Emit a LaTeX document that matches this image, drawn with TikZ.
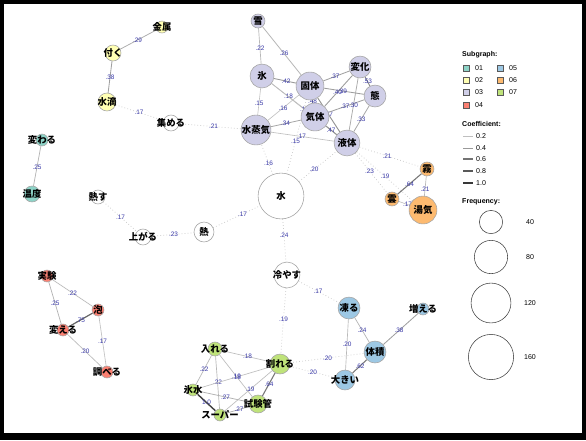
\documentclass[tikz,border=0pt]{standalone}
\usepackage{fontspec}
\setmainfont{Liberation Sans}
\newfontfamily\jp{Noto Sans CJK JP}
\usetikzlibrary{calc}
\pgfdeclarelayer{back}
\pgfdeclarelayer{edges}
\pgfsetlayers{back,edges,main}
\definecolor{c01}{HTML}{8DD3C7}
\definecolor{c02}{HTML}{FFFFB3}
\definecolor{c03}{HTML}{D0CFE8}
\definecolor{c04}{HTML}{FB8072}
\definecolor{c05}{HTML}{9DC8E4}
\definecolor{c06}{HTML}{FDBA70}
\definecolor{c07}{HTML}{BFE37A}
\definecolor{labblue}{HTML}{3A3AA8}
\begin{document}
\begin{tikzpicture}[x=0.03cm, y=-0.03cm,
	nd/.style={circle, draw=gray!70, line width=0.5pt, inner sep=0pt},
	wd/.style={font={\jp\bfseries\fontsize{8}{9}\selectfont}, inner sep=0pt},
	elab/.style={font={\fontsize{5.5}{6}\selectfont}, text=labblue, inner sep=0.5pt},
	dot/.style={dotted, draw=gray!45, line width=0.6pt},
	leg/.style={font={\fontsize{6}{7}\selectfont}, anchor=west, inner sep=0pt},
	sq/.style={draw=gray!70!black, line width=0.4pt, minimum size=5pt, inner sep=0pt}]
	% frame
	\begin{pgfonlayer}{back}
		\fill[black] (0,0) rectangle (586,440);
		\fill[white] (4,4) rectangle (582,433);
	\end{pgfonlayer}
	% words
	\foreach \n/\x/\y/\r/\c/\t in {
		yuki/258/21/7/c03/雪, hyo/262/76/12/c03/氷, kotai/310/86/14/c03/固体, henka/360/67/11/c03/変化,
		tai/375/96/11/c03/態, kitai/315/117/14/c03/気体, jouki/256/130/15/c03/水蒸気, ekitai/347/143/13/c03/液体,
		mizu/281/196/23/white/水, netsu/204/232/10/white/熱, hiyasu/287/275/13/white/冷やす,
		atsumeru/171/123/8/white/集める, agaru/143/237/8/white/上がる, nessu/98/197/7/white/熱す,
		kinzoku/162/27/6/c02/金属, tsuku/113/53/8/c02/付く, suiteki/107/102/9/c02/水滴,
		kawaru/42/140/6/c01/変わる, ondo/32/194/8/c01/温度,
		kiri/427/169/7/c06/霧, kumo/392/199/7/c06/雲, yuge/423/210/14/c06/湯気,
		koru/349/308/11/c05/凍る, taiseki/375/352/11/c05/体積, fueru/423/309/6/c05/増える, ookii/345/380/10/c05/大きい,
		wareru/280/364/10/c07/割れる, ireru/215/349/7/c07/入れる, koorimizu/193/390/6/c07/氷水,
		super/220/415/6/c07/スーパー, shikenkan/258/404/9/c07/試験管,
		jikken/47/276/6/c04/実験, awa/98/310/6/c04/泡, kaeru/63/330/6/c04/変える, shiraberu/107/372/6/c04/調べる} {
		\node[nd, fill=\c, minimum size=\r*1.7pt] (\n) at (\x,\y) {};
		\node[wd] (\n t) at (\n) {\t};
	}
	% co-occurrence edges
	\begin{pgfonlayer}{edges}
		\foreach \a/\b/\c in {kinzoku/tsuku/29, tsuku/suiteki/38, kawaru/ondo/25,
			yuki/hyo/22, yuki/kotai/26, hyo/kotai/42, hyo/kitai/18, hyo/ekitai/18, hyo/jouki/15, kotai/jouki/16,
			kotai/kitai/48, kotai/ekitai/47, kotai/henka/37, kotai/tai/39, kitai/henka/40, kitai/tai/37,
			ekitai/henka/30, henka/tai/53, tai/ekitai/33, kitai/ekitai/47, jouki/kitai/34, jouki/ekitai/17,
			kiri/kumo/64, kiri/yuge/21, kumo/yuge/17,
			koru/ookii/20, koru/taiseki/24, taiseki/fueru/38, taiseki/ookii/62,
			ireru/wareru/18, ireru/koorimizu/22, ireru/super/22, ireru/shikenkan/19, koorimizu/wareru/18,
			koorimizu/shikenkan/27, super/shikenkan/27, super/wareru/19, shikenkan/wareru/64,
			jikken/awa/22, jikken/kaeru/25, awa/kaeru/75, awa/shiraberu/17, kaeru/shiraberu/20} {
			\pgfmathsetmacro\k{15+0.6*\c}
			\pgfmathsetmacro\w{0.4+0.008*\c}
			\draw[line width=\w pt, draw=black!\k] (\a) -- (\b);
			\node[elab] (l\a\b) at ($(\a)!.5!(\b)$) {.\c};
		}
		\draw[line width=1.2pt, draw=black!75] (koorimizu) -- (super);
		\node[elab] (lkoorimizusuper) at ($(koorimizu)!.5!(super)$) {1.0};
		\foreach \a/\b/\c in {suiteki/atsumeru/17, atsumeru/jouki/21, nessu/agaru/17, agaru/netsu/23,
			netsu/mizu/17, mizu/jouki/16, mizu/kotai/15, mizu/ekitai/20, mizu/hiyasu/24,
			ekitai/kiri/21, ekitai/kumo/23, ekitai/yuge/19, hiyasu/koru/17, hiyasu/wareru/19,
			wareru/taiseki/20, wareru/ookii/20} {
			\draw[dot] (\a) -- (\b);
			\node[elab] (l\a\b) at ($(\a)!.5!(\b)$) {.\c};
		}
	\end{pgfonlayer}
	% legend
	\node[leg, font={\bfseries\fontsize{6}{7}\selectfont}] (sgt) at (462,55) {Subgraph:};
	\foreach \t/\c/\x/\y in {01/c01/466/68, 02/c02/466/80, 03/c03/466/92, 04/c04/466/105,
		05/c05/500/68, 06/c06/500/80, 07/c07/500/92} {
		\node[sq, fill=\c] (s\t) at (\x,\y) {};
		\node[leg] (st\t) at (\x+9,\y) {\t};
	}
	\node[leg, font={\bfseries\fontsize{6}{7}\selectfont}] (cft) at (462,124) {Coefficient:};
	\foreach \v/\y/\k/\w in {0.2/136/25/0.5, 0.4/148/40/0.7, 0.6/159/55/0.9, 0.8/171/65/1.1, 1.0/183/78/1.3} {
		\coordinate (ca\y) at (463,\y);
		\coordinate (cb\y) at (473,\y);
		\draw[line width=\w pt, draw=black!\k] (ca\y) -- (cb\y);
		\node[leg] (ct\y) at (476,\y) {\v};
	}
	\node[leg, font={\bfseries\fontsize{6}{7}\selectfont}] (frt) at (462,202) {Frequency:};
	\foreach \v/\y/\r in {40/222/11.7, 80/257/16.7, 120/303/20, 160/357/22.7} {
		\node[circle, draw=black!70, line width=0.5pt, inner sep=0pt, minimum size=\r*1.7pt] (f\v) at (491,\y) {};
		\node[font={\fontsize{6}{7}\selectfont}, inner sep=0pt] (ft\v) at (530,\y) {\v};
	}
\end{tikzpicture}
\end{document}
